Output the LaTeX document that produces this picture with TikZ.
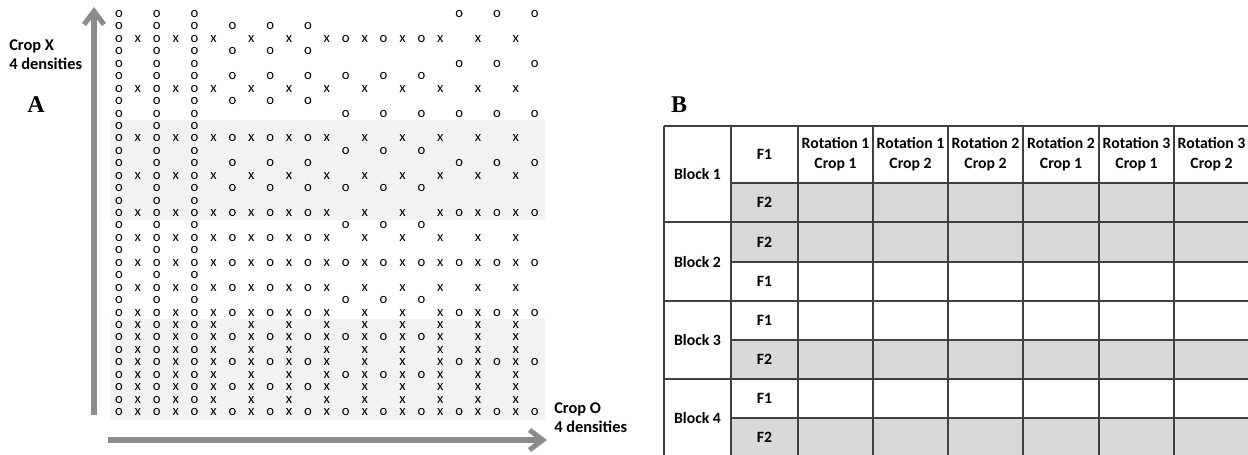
\documentclass[tikz,border=0pt]{standalone}
\usepackage{fontspec}
\setmainfont{Carlito}
\newfontfamily\panelfont{Liberation Serif}
\usepackage{xcolor}
\usepackage{tikz}
\usetikzlibrary{arrows.meta,positioning,calc}

\definecolor{axisgray}{HTML}{8C8C8C}
\definecolor{bandgray}{HTML}{F2F2F2}
\definecolor{cellgray}{HTML}{D9D9D9}
\definecolor{rulegray}{HTML}{404040}

\begin{document}
\begin{tikzpicture}[x=0.75pt,y=-0.75pt,
  axis/.style={axisgray,line width=3.8pt,-{Straight Barb[length=10pt,width=15pt]}},
  plant/.style={font=\fontsize{11}{11}\selectfont,inner sep=0pt},
  lab/.style={font=\bfseries\fontsize{12.3}{14.3}\selectfont,align=left,anchor=west,inner sep=0pt},
  cell/.style={font=\bfseries\fontsize{11.8}{15}\selectfont,align=center,inner sep=0pt},
  rule/.style={rulegray,line width=1pt},
  panel/.style={font=\panelfont\bfseries\fontsize{18}{18}\selectfont,inner sep=0pt}]
\useasboundingbox (0,0) rectangle (1248,454);
% shaded bands of the field plan
\fill[bandgray] (110,120) rectangle (545,220);
\fill[bandgray] (110,319) rectangle (545,420);
% axes
\coordinate (ybot) at (94,415);
\coordinate (ytop) at (94,7);
\coordinate (xleft) at (108,440);
\coordinate (xright) at (547,440);
\draw[axis] (ybot) -- (ytop);
\draw[axis] (xleft) -- (xright);
% labels
\node[lab] (cropx) at (9,54.5) {Crop X\\4 densities};
\node[lab] (cropo) at (554,417.5) {Crop O\\4 densities};
\node[panel] (A) at (36,105) {A};
% plants: o groups start at 0,6,12,18; x rows carry x in every odd column
\foreach \r/\gs/\hasx in {
  0/{0,18}/0, 1/{0,6}/0, 2/{0,12}/1, 3/{0,6}/0, 4/{0,18}/0,
  5/{0,6,12}/0, 6/{0}/1, 7/{0,6}/0, 8/{0,12,18}/0, 9/{0}/0,
  10/{0,6}/1, 11/{0,12}/0, 12/{0,6,18}/0, 13/{0}/1, 14/{0,6,12}/0,
  15/{0}/0, 16/{0,6,18}/1, 17/{0,12}/0, 18/{0,6}/1, 19/{0}/0,
  20/{0,6,12,18}/1, 21/{0}/0, 22/{0,6}/1, 23/{0,12}/0, 24/{0,6,18}/1,
  25/{0}/1, 26/{0,6,12}/1, 27/{0}/1, 28/{0,6,18}/1, 29/{0,12}/1,
  30/{0,6}/1, 31/{0}/1, 32/{0,6,12,18}/1}{
  \foreach \g in \gs {
    \foreach \k in {0,2,4}{
      \pgfmathtruncatemacro\c{\g+\k}
      \node[plant] (o-\r-\c) at ({119+18.9*\c},{14+12.44*\r}) {o};
    }
  }
  \ifnum\hasx=1
    \foreach \c in {1,3,...,21}{\node[plant] (x-\r-\c) at ({119+18.9*\c},{14+12.44*\r}) {x};}
  \fi
}
% table B
\node[panel] (B) at (679,105) {B};
\foreach \ya/\yb in {183/222,222/262,340/379,418/457}
  \fill[cellgray] (731,\ya) rectangle (1249,\yb);
\foreach \x in {664,731,798,873,948,1023,1099,1174,1249}
  \draw[rule] (\x,126) -- (\x,457);
\foreach \y in {126,222,301,379,457}
  \draw[rule] (664,\y) -- (1249,\y);
\foreach \y in {183,262,340,418}
  \draw[rule] (731,\y) -- (1249,\y);
\foreach \b/\y in {1/174,2/262,3/340,4/418}
  \node[cell] (block\b) at (697.5,\y) {Block \b};
\foreach \f/\y [count=\i] in {F1/154.5,F2/202.5,F2/242,F1/281.5,F1/320.5,F2/359.5,F1/398.5,F2/437.5}
  \node[cell] (f\i) at (764.5,\y) {\f};
\foreach \rot/\crop/\x [count=\i] in {1/1/835.5,1/2/910.5,2/2/985.5,2/1/1061,3/1/1136.5,3/2/1211.5}
  \node[cell] (head\i) at (\x,154.5) {Rotation \rot\\Crop \crop};
\end{tikzpicture}
\end{document}
